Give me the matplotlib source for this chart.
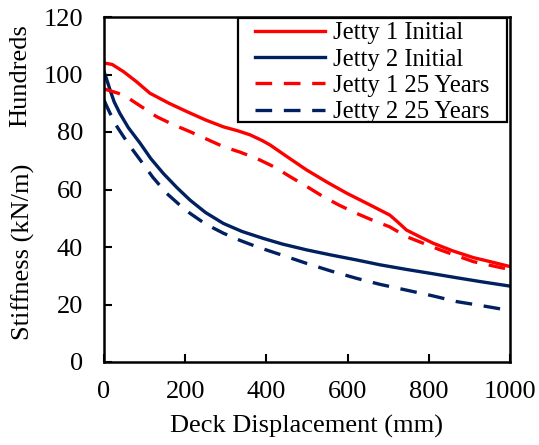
import matplotlib.pyplot as plt
from matplotlib.patches import Rectangle

plt.rcParams['font.family'] = ['Liberation Serif', 'DejaVu Serif']

# Stiffness (hundreds of kN/m) against deck displacement (mm)
j1_init_x = [0, 20, 48, 80, 113, 160, 204, 250, 294, 330, 360, 390, 409, 450, 499, 550, 598, 650, 704, 725, 745, 780, 811, 860, 910, 960, 1000]
j1_init_y = [104, 103.5, 101, 97.5, 93.5, 90, 87.1, 84.2, 81.8, 80.4, 79, 77, 75.5, 71.5, 66.8, 62.5, 58.7, 55, 51.1, 48.5, 45.9, 43.4, 41.3, 38.6, 36.3, 34.6, 33.2]

j2_init_x = [0, 5, 15, 25, 39, 60, 89, 115, 146, 180, 212, 250, 294, 340, 392, 440, 499, 560, 622, 680, 745, 810, 869, 930, 1000]
j2_init_y = [101, 99, 94.6, 90.5, 86.5, 81.5, 76.1, 70.8, 65.6, 60.6, 56.3, 52, 48.2, 45.4, 43, 41, 39, 37.2, 35.5, 33.8, 32.2, 30.7, 29.3, 27.9, 26.4]

j1_25_x = [0, 48, 90, 130, 170, 212, 250, 294, 335, 376, 420, 458, 500, 540, 580, 622, 660, 704, 745, 790, 828, 870, 910, 975, 1000]
j1_25_y = [95, 92.9, 89, 85.3, 82.6, 80.1, 77.7, 74.9, 73, 70.8, 67.8, 64.5, 61, 57.5, 54.5, 51.7, 49.4, 47, 43.6, 41.1, 39, 36.9, 34.9, 32.9, 32.2]

j2_25_x = [0, 5, 15, 30, 48, 68, 89, 120, 154, 185, 212, 250, 294, 335, 376, 440, 499, 560, 622, 680, 745, 810, 869, 930, 1000]
j2_25_y = [91.1, 89.5, 86.5, 82.3, 78.4, 74.3, 70.3, 64.3, 58.7, 54.8, 51.7, 48, 44.8, 42.3, 40.1, 37.1, 34.3, 31.6, 29.1, 27, 25, 23, 21, 19.6, 17.9]

red = '#FF0000'
navy = '#002060'
dash = (0, (5, 3.5))

fig = plt.figure(figsize=(5.39, 4.45), dpi=100)
ax = fig.add_axes([104 / 539, 1 - 362 / 445, 406 / 539, 345 / 445])

ax.plot(j1_init_x, j1_init_y, color=red, lw=2.4, label='Jetty 1 Initial')
ax.plot(j2_init_x, j2_init_y, color=navy, lw=2.4, label='Jetty 2 Initial')
ax.plot(j1_25_x, j1_25_y, color=red, lw=2.4, ls=dash, label='Jetty 1 25 Years')
ax.plot(j2_25_x, j2_25_y, color=navy, lw=2.4, ls=dash, label='Jetty 2 25 Years')

ax.set_xlim(0, 1000)
ax.set_ylim(0, 120)
ax.set_xticks(range(0, 1001, 200))
ax.set_yticks(range(0, 121, 20))
ax.tick_params(direction='in', length=6, width=1.5, labelsize=19)
ax.tick_params(axis='x', pad=14)
ax.tick_params(axis='y', pad=15)
for s in ax.spines.values():
    s.set_linewidth(1.8)

ax.set_xlabel('Deck Displacement (mm)', fontsize=19, labelpad=8)
ax.set_ylabel('Stiffness (kN/m)', fontsize=19)
ax.yaxis.set_label_coords(-0.17, 0.319)
fig.text(20 / 539, 1 - 76 / 445, 'Hundreds', rotation=90, fontsize=19,
         ha='center', va='center')

# legend without its own frame; box drawn separately with wider side margins
leg = ax.legend(loc='upper right', fontsize=17.7, frameon=False,
                handlelength=2.85, handletextpad=0.3, labelspacing=0.17,
                borderpad=0, borderaxespad=0,
                bbox_to_anchor=(489 / 539, 1 - 22 / 445),
                bbox_transform=fig.transFigure)
leg.set_zorder(6)
box = Rectangle((238 / 539, 1 - 122 / 445), 269 / 539, 104 / 445,
                transform=fig.transFigure, facecolor='white',
                edgecolor='black', lw=1.6, zorder=5, clip_on=False)
ax.add_patch(box)

fig.savefig('out.png', dpi=100)
